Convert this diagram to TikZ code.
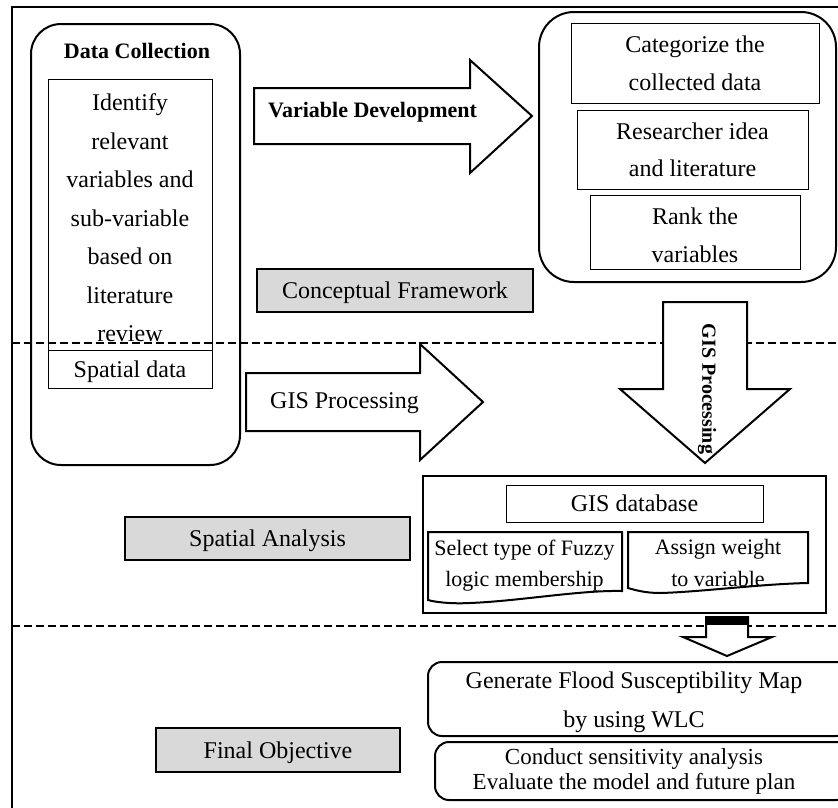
\documentclass[tikz,border=0pt]{standalone}
\usepackage{fontspec}
\setmainfont{Liberation Serif}
\definecolor{boxgray}{HTML}{D9D9D9}
\begin{document}
\begin{tikzpicture}[x=1pt,y=-1pt,
  thinbox/.style={draw, line width=0.9pt, inner sep=0pt, align=center},
  graybox/.style={draw, line width=2.6pt, fill=boxgray, inner sep=0pt, text height=16pt, text depth=0pt, font=\fontsize{24}{28}\selectfont},
  bigarrow/.style={draw, line width=2pt, fill=white, line join=miter},
  docshape/.style={draw, line width=2pt, line join=miter},
  roundbox/.style={draw, line width=2pt},
  txt/.style={inner sep=0pt, align=center},
  sep/.style={dashed, line width=1.8pt, dash pattern=on 8pt off 4pt}
]
\useasboundingbox (0,0) rectangle (838,807);
\clip (0,0) rectangle (838,807);

% outer frame
\draw[line width=1.6pt] (12,808) -- (12,7) -- (840,7);

% dashed separators
\draw[sep] (12,343) -- (840,343);
\draw[sep] (12,626) -- (840,626);

% Data collection block
\draw[roundbox, rounded corners=30pt] (31,24) rectangle (240,465);
\node[txt, font=\bfseries\fontsize{22}{26}\selectfont] (dc) at (137,51) {Data Collection};
\node[thinbox, minimum width=164pt, minimum height=271pt] (ident) at (130,214.5) {};
\node[txt, font=\fontsize{24}{38.5}\selectfont] (identtxt) at (130,218) 
  {Identify\\relevant\\variables and\\sub-variable\\based on\\literature\\review};
\node[thinbox, minimum width=164pt, minimum height=38pt, text height=16pt, text depth=0pt, font=\fontsize{24}{28}\selectfont] (spd) at (130,369) {Spatial data};

% Variable development arrow
\draw[bigarrow] (254,88) -- (470,88) -- (470,60) -- (532,116) -- (470,173) -- (470,144) -- (254,144) -- cycle;
\node[txt, anchor=west, font=\bfseries\fontsize{22}{26}\selectfont] (vd) at (268,112) {Variable Development};

% right rounded block
\draw[roundbox, rounded corners=35pt] (539,12) rectangle (836,282);
\node[thinbox, minimum width=248pt, minimum height=80pt, font=\fontsize{24}{38}\selectfont] (cat) at (695,63) {Categorize the\\collected data};
\node[thinbox, minimum width=231pt, minimum height=79pt, font=\fontsize{24}{37}\selectfont] (res) at (692.5,149.5) {Researcher idea\\and literature};
\node[thinbox, minimum width=210pt, minimum height=74pt] (rank) at (695,232) {};
\node[txt, font=\fontsize{24}{38}\selectfont] (ranktxt) at (695,235) {Rank the\\variables};

% gray labels
\node[graybox, minimum width=276pt, minimum height=43pt] (cf) at (395,290.5) {Conceptual Framework};
\node[graybox, minimum width=285pt, minimum height=43pt] (sa) at (267.5,538.5) {Spatial Analysis};
\node[graybox, minimum width=244pt, minimum height=44pt] (fo) at (278,750) {Final Objective};

% GIS processing right arrow
\draw[bigarrow] (246,373) -- (420,373) -- (420,344) -- (483,402) -- (420,460) -- (420,431) -- (246,431) -- cycle;
\node[txt, anchor=west, font=\fontsize{24}{28}\selectfont] (gp1) at (270,403) {GIS Processing};

% GIS processing down arrow
\draw[bigarrow] (663,302) -- (747,302) -- (747,389) -- (790,389) -- (705,463) -- (620,389) -- (663,389) -- cycle;
\node[txt, rotate=-90, font=\bfseries\fontsize{20}{24}\selectfont] (gp2) at (707,389) {GIS Processing};

% GIS database block
\draw[line width=2.4pt] (423,476) rectangle (826,613);
\node[thinbox, minimum width=257pt, minimum height=37pt, text height=16pt, text depth=0pt, font=\fontsize{24}{28}\selectfont] (gdb) at (634.5,503.5) {GIS database};
\draw[docshape] (428,532) -- (622,532) -- (622,591) .. controls (580,590) and (520,601) .. (470,603) .. controls (450,604) and (435,602) .. (428,600) -- cycle;
\node[txt, font=\fontsize{22}{31}\selectfont] (fz) at (524.5,566) {Select type of Fuzzy\\logic membership};
\draw[docshape] (628,532) -- (808,532) -- (808,583) .. controls (760,584) and (700,592) .. (660,593) .. controls (645,593) and (635,590) .. (628,588) -- cycle;
\node[txt, font=\fontsize{22}{32}\selectfont] (aw) at (718,563) {Assign weight\\to variable};

% small down arrow
\draw[bigarrow] (706,617) -- (748,617) -- (748,637) -- (772,637) -- (727,656) -- (683,637) -- (706,637) -- cycle;
\fill[black] (706,616) rectangle (748,625);

% final boxes
\draw[roundbox, rounded corners=14pt] (428,662) rectangle (850,736);
\node[txt, font=\fontsize{24}{39}\selectfont] (gen) at (634,702) {Generate Flood Susceptibility Map\\by using WLC};
\draw[roundbox, rounded corners=14pt] (435,742) rectangle (850,800);
\node[txt, font=\fontsize{23}{25}\selectfont] (cs) at (634,771) {Conduct sensitivity analysis\\Evaluate the model and future plan};
\end{tikzpicture}
\end{document}
